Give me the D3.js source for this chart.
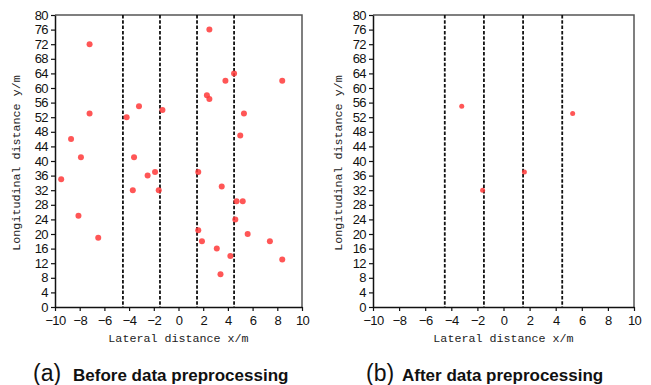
<!DOCTYPE html>
<html>
<head>
<meta charset="utf-8">
<script src="https://cdn.jsdelivr.net/npm/d3@7"></script>
<style>
  body { margin: 0; background: #fff; }
  .tick text { font-family: "Liberation Sans", Arial, sans-serif; font-size: 13px; letter-spacing: -0.6px; fill: #111; }
  .axisTitle { font-family: "Liberation Mono", "DejaVu Sans Mono", monospace; font-size: 11.7px; fill: #222; }
  .capTag { font-family: "Liberation Sans", Arial, sans-serif; font-size: 23px; fill: #111; }
  .capText { font-family: "Liberation Sans", Arial, sans-serif; font-size: 17px; font-weight: bold; fill: #111; }
</style>
</head>
<body>
<div id="chart"></div>
<script>
// tick values and lane boundaries
const xTickValues = [-10, -8, -6, -4, -2, 0, 2, 4, 6, 8, 10];
const yTickValues = [0, 4, 8, 12, 16, 20, 24, 28, 32, 36, 40, 44, 48, 52, 56, 60, 64, 68, 72, 76, 80];
const laneLines = [-4.5, -1.5, 1.5, 4.5];

// (a) raw detections
const beforeX = [-7.2, -7.2, -8.7, -7.9, -9.5, -8.1, -6.5, -4.2, -3.2, -3.6, -2.5, -1.9, -3.7, -1.6, -1.3,
  2.5, 4.5, 3.8, 8.4, 2.3, 2.5, 5.3, 5.0, 1.6, 3.5, 4.7, 5.2, 4.6, 1.6, 5.6, 1.9, 7.4, 3.1, 4.2, 8.4, 3.4];
const beforeY = [72, 53, 46, 41, 35, 25, 19, 52, 55, 41, 36, 37, 32, 32, 54,
  76, 64, 62, 62, 58, 57, 53, 47, 37, 33, 29, 29, 24, 21, 20, 18, 18, 16, 14, 13, 9];

// (b) after preprocessing
const afterX = [-3.2, -1.6, 1.6, 5.3];
const afterY = [55, 32, 37, 53];

const svgWidth = 651;
const svgHeight = 385;

const svg = d3.select("#chart")
  .append("svg")
  .attr("width", svgWidth)
  .attr("height", svgHeight);

// Draw one panel
// xs / ys --- point values, x0/x1 --- pixel extent of plot area, r --- dot radius
function drawPanel(xs, ys, x0, x1, yLabelX, r, tag, caption, tagX, capX) {
  const top = 15, bottom = 307;

  const xScale = d3.scaleLinear().domain([-10, 10]).range([x0, x1]);
  const yScale = d3.scaleLinear().domain([0, 80]).range([bottom, top]);

  const g = svg.append("g");

  // frame top/right
  g.append("path")
    .attr("d", `M${x0},${top}H${x1}V${bottom}`)
    .attr("fill", "none")
    .attr("stroke", "#555")
    .attr("stroke-width", 1.5);

  // lane dividers
  g.selectAll("line.lane")
    .data(laneLines)
    .enter()
    .append("line")
    .classed("lane", true)
    .attr("x1", d => xScale(d))
    .attr("x2", d => xScale(d))
    .attr("y1", top)
    .attr("y2", bottom)
    .attr("stroke", "#111")
    .attr("stroke-width", 1.8)
    .attr("stroke-dasharray", "3.5,1.8");

  // axes
  const bottomAxis = d3.axisBottom(xScale).tickValues(xTickValues).tickSize(4).tickPadding(3).tickSizeOuter(0);
  const leftAxis = d3.axisLeft(yScale).tickValues(yTickValues).tickSize(4).tickPadding(3).tickSizeOuter(0);

  const xAxis = g.append("g")
    .attr("transform", `translate(0, ${bottom})`)
    .call(bottomAxis);
  const yAxis = g.append("g")
    .attr("transform", `translate(${x0}, 0)`)
    .call(leftAxis);

  [xAxis, yAxis].forEach(a => {
    a.select(".domain").attr("stroke", "#111").attr("stroke-width", 1.5);
    a.selectAll(".tick line").attr("stroke", "#111").attr("stroke-width", 1.2);
    a.attr("font-family", null).attr("font-size", null);
  });
  xAxis.selectAll(".tick text").attr("dy", "0.85em");

  // points
  const pts = xs.map((x, i) => ({x: x, y: ys[i]}));
  g.selectAll("circle.pt")
    .data(pts)
    .enter()
    .append("circle")
    .classed("pt", true)
    .attr("cx", d => xScale(d.x))
    .attr("cy", d => yScale(d.y))
    .attr("r", r)
    .attr("fill", "#ff3838")
    .attr("fill-opacity", 0.85);

  // axis titles
  g.append("text")
    .classed("axisTitle", true)
    .attr("x", (x0 + x1) / 2)
    .attr("y", 342)
    .attr("text-anchor", "middle")
    .text("Lateral distance x/m");

  g.append("text")
    .classed("axisTitle", true)
    .attr("transform", `translate(${yLabelX}, ${(top + bottom) / 2 + 2}) rotate(-90)`)
    .attr("text-anchor", "middle")
    .text("Longitudinal distance y/m");

  // caption
  g.append("text")
    .classed("capTag", true)
    .attr("x", tagX)
    .attr("y", 381)
    .text(tag);
  g.append("text")
    .classed("capText", true)
    .attr("x", capX)
    .attr("y", 381)
    .text(caption);
}

drawPanel(beforeX, beforeY, 55, 302, 20, 3, "(a)", "Before data preprocessing", 33, 73);
drawPanel(afterX, afterY, 373, 634, 342, 2.5, "(b)", "After data preprocessing", 366, 402);
</script>
</body>
</html>
